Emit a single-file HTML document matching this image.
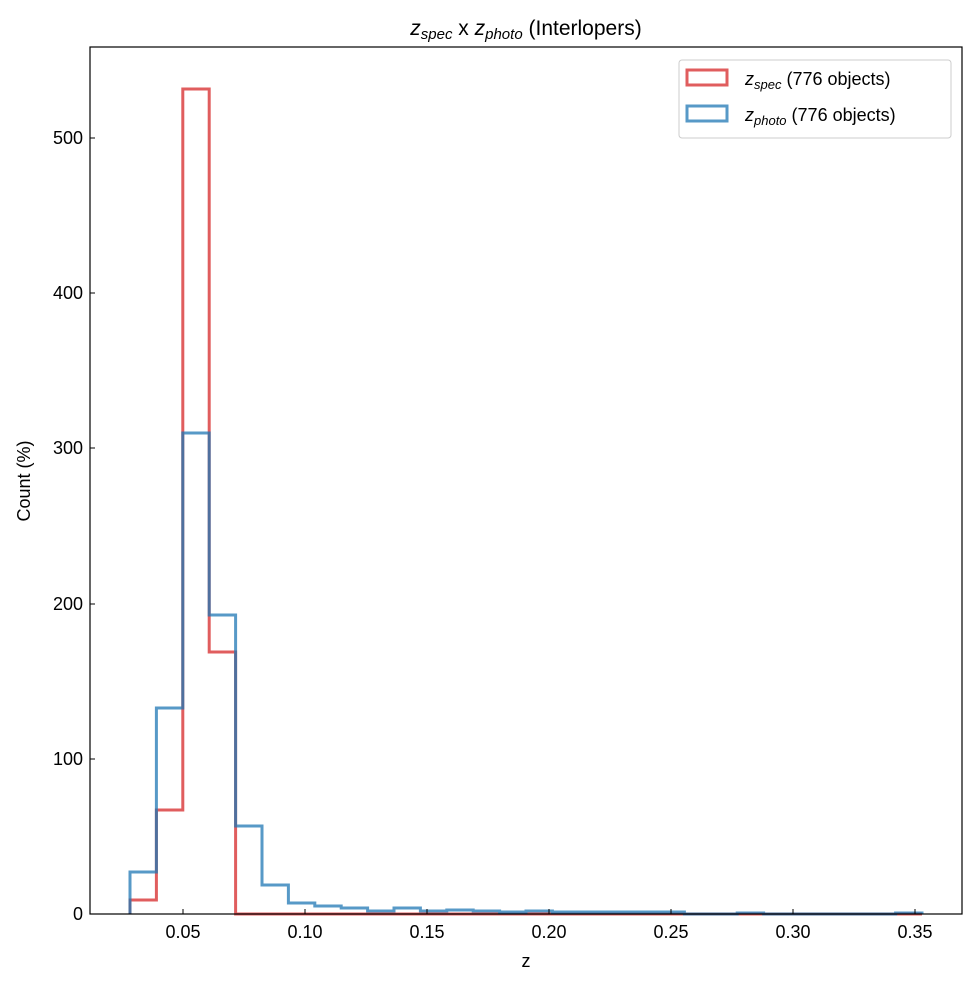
<!DOCTYPE html>
<html><head><style>body{margin:0;background:#fff}</style></head><body>
<svg width="977" height="985" xmlns="http://www.w3.org/2000/svg" font-family="Liberation Sans, DejaVu Sans, sans-serif">
<rect width="977" height="985" fill="#fff"/>
<path d="M130,914 V900 H156.4 V810 H182.8 V89 H209.2 V652 H235.6 V914 H922" fill="none" stroke="#d62728" stroke-opacity="0.75" stroke-width="3"/>
<path d="M130,914 V872 H156.4 V708 H182.8 V433 H209.2 V615 H235.6 V826 H262 V885 H288.4 V903 H314.8 V906 H341.2 V908 H367.6 V911 H394 V908 H420.4 V911 H446.8 V910 H473.2 V911 H499.6 V912 H526 V911 H552.4 V912 H684.4 V914 H737.2 V913 H763.6 V914 H895.6 V913 H922 V914" fill="none" stroke="#1f77b4" stroke-opacity="0.75" stroke-width="3"/>
<rect x="90" y="47" width="872" height="867" fill="none" stroke="#000" stroke-width="1.2"/>
<g stroke="#000" stroke-width="1">
<path d="M183,914v-5M305,914v-5M427,914v-5M549,914v-5M671,914v-5M793,914v-5M915,914v-5"/>
<path d="M90,914h5M90,759h5M90,604h5M90,448h5M90,293h5M90,138h5"/>
</g>
<g font-size="18" text-anchor="middle">
<text x="183" y="938">0.05</text><text x="305" y="938">0.10</text><text x="427" y="938">0.15</text><text x="549" y="938">0.20</text><text x="671" y="938">0.25</text><text x="793" y="938">0.30</text><text x="915" y="938">0.35</text>
<text x="526" y="967">z</text>
</g>
<g font-size="18" text-anchor="end">
<text x="83" y="920">0</text><text x="83" y="765">100</text><text x="83" y="610">200</text><text x="83" y="454">300</text><text x="83" y="299">400</text><text x="83" y="144">500</text>
</g>
<text transform="translate(30,481) rotate(-90)" font-size="18" text-anchor="middle">Count (%)</text>
<text x="526" y="35" font-size="21" text-anchor="middle"><tspan font-style="italic">z</tspan><tspan font-style="italic" font-size="15" dy="4">spec</tspan><tspan dy="-4"> x </tspan><tspan font-style="italic">z</tspan><tspan font-style="italic" font-size="15" dy="4">photo</tspan><tspan dy="-4"> (Interlopers)</tspan></text>
<rect x="679" y="60" width="272" height="78" rx="3" fill="#fff" stroke="#ccc"/>
<rect x="687" y="70" width="40" height="15" fill="none" stroke="#d62728" stroke-opacity="0.75" stroke-width="3"/>
<rect x="687" y="106" width="40" height="15" fill="none" stroke="#1f77b4" stroke-opacity="0.75" stroke-width="3"/>
<text x="745" y="85" font-size="18"><tspan font-style="italic">z</tspan><tspan font-style="italic" font-size="13" dy="4">spec</tspan><tspan dy="-4"> (776 objects)</tspan></text>
<text x="745" y="121" font-size="18"><tspan font-style="italic">z</tspan><tspan font-style="italic" font-size="13" dy="4">photo</tspan><tspan dy="-4"> (776 objects)</tspan></text>
</svg>
</body></html>
